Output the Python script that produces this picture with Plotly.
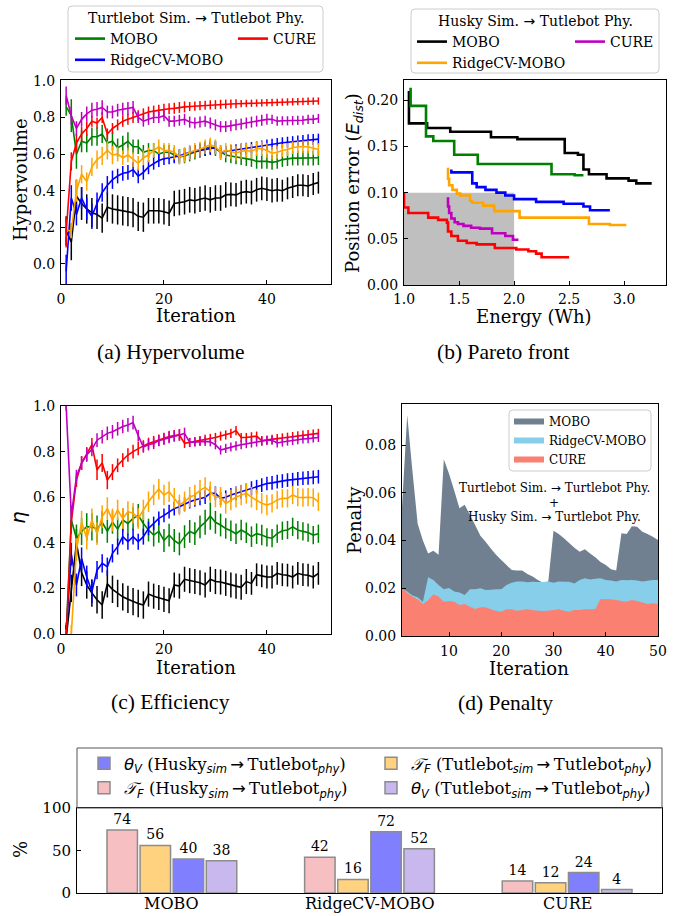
import plotly.graph_objects as go

W, H = 677, 916

iters = list(range(1, 51))

# ---------------- (a) Hypervolume ----------------
hv_mobo_tb = [0.86, 0.81, 0.60, 0.67, 0.66, 0.695, 0.695, 0.71, 0.66, 0.67,
              0.635, 0.65, 0.67, 0.64, 0.64, 0.61, 0.62, 0.62, 0.60, 0.61,
              0.61, 0.595, 0.585, 0.59, 0.60, 0.61, 0.62, 0.63, 0.64, 0.63,
              0.61, 0.595, 0.59, 0.585, 0.58, 0.575, 0.57, 0.56, 0.56, 0.56,
              0.555, 0.56, 0.57, 0.575, 0.578, 0.578, 0.578, 0.578, 0.578, 0.58]
hv_mobo_tb_err = [0.05, 0.09, 0.08, 0.06, 0.05, 0.05, 0.05, 0.05, 0.05, 0.05,
                  0.05, 0.05, 0.05, 0.04, 0.04, 0.04, 0.04, 0.04, 0.04, 0.04,
                  0.04, 0.04, 0.04, 0.04, 0.04, 0.04, 0.04, 0.04, 0.04, 0.04,
                  0.04, 0.04, 0.04, 0.04, 0.04, 0.04, 0.04, 0.04, 0.04, 0.04,
                  0.04, 0.04, 0.04, 0.04, 0.04, 0.04, 0.04, 0.04, 0.04, 0.04]
hv_cure_tb = [0.17, 0.56, 0.66, 0.71, 0.74, 0.78, 0.77, 0.80, 0.71, 0.74,
              0.76, 0.78, 0.79, 0.80, 0.81, 0.82, 0.83, 0.835, 0.84, 0.845,
              0.848, 0.85, 0.855, 0.858, 0.86, 0.862, 0.865, 0.867, 0.869, 0.87,
              0.872, 0.873, 0.874, 0.875, 0.876, 0.877, 0.878, 0.879, 0.88, 0.881,
              0.882, 0.883, 0.884, 0.885, 0.886, 0.887, 0.888, 0.889, 0.89, 0.89]
hv_cure_tb_err = [0.08, 0.05, 0.05, 0.04, 0.04, 0.03, 0.03, 0.03, 0.03, 0.03,
                  0.03, 0.03, 0.03, 0.03, 0.03, 0.03, 0.03, 0.03, 0.03, 0.03,
                  0.03, 0.03, 0.03, 0.03, 0.025, 0.025, 0.025, 0.025, 0.025, 0.025,
                  0.025, 0.025, 0.025, 0.025, 0.02, 0.02, 0.02, 0.02, 0.02, 0.02,
                  0.02, 0.02, 0.02, 0.02, 0.02, 0.02, 0.02, 0.02, 0.02, 0.02]
hv_ridge_tb = [-0.04, 0.36, 0.27, 0.36, 0.30, 0.26, 0.33, 0.39, 0.43, 0.46,
               0.48, 0.495, 0.50, 0.515, 0.48, 0.50, 0.53, 0.55, 0.565, 0.575,
               0.58, 0.585, 0.59, 0.60, 0.61, 0.615, 0.62, 0.625, 0.63, 0.635,
               0.61, 0.615, 0.62, 0.624, 0.628, 0.632, 0.636, 0.64, 0.645, 0.65,
               0.654, 0.658, 0.662, 0.665, 0.668, 0.672, 0.675, 0.678, 0.68, 0.682]
hv_ridge_tb_err = [0.09, 0.07, 0.06, 0.06, 0.06, 0.07, 0.06, 0.05, 0.05, 0.05,
                   0.04, 0.04, 0.04, 0.04, 0.04, 0.04, 0.04, 0.035, 0.035, 0.035,
                   0.035, 0.035, 0.035, 0.035, 0.035, 0.035, 0.035, 0.035, 0.035, 0.035,
                   0.03, 0.03, 0.03, 0.03, 0.03, 0.03, 0.03, 0.03, 0.03, 0.03,
                   0.03, 0.03, 0.03, 0.03, 0.03, 0.03, 0.03, 0.03, 0.03, 0.03]
hv_mobo_hk = [0.18, 0.12, 0.37, 0.33, 0.30, 0.28, 0.27, 0.25, 0.31, 0.30,
              0.295, 0.29, 0.285, 0.28, 0.26, 0.255, 0.29, 0.29, 0.29, 0.285,
              0.277, 0.33, 0.335, 0.34, 0.35, 0.345, 0.353, 0.36, 0.35, 0.36,
              0.36, 0.377, 0.38, 0.377, 0.39, 0.395, 0.39, 0.405, 0.413, 0.408,
              0.40, 0.405, 0.40, 0.413, 0.42, 0.43, 0.43, 0.426, 0.437, 0.444]
hv_mobo_hk_err = [0.08, 0.10, 0.09, 0.09, 0.08, 0.08, 0.08, 0.08, 0.08, 0.08,
                  0.08, 0.08, 0.08, 0.08, 0.08, 0.08, 0.07, 0.07, 0.07, 0.07,
                  0.07, 0.07, 0.07, 0.07, 0.07, 0.07, 0.07, 0.07, 0.07, 0.07,
                  0.07, 0.07, 0.065, 0.065, 0.065, 0.065, 0.065, 0.065, 0.065, 0.065,
                  0.065, 0.065, 0.06, 0.06, 0.06, 0.06, 0.06, 0.06, 0.06, 0.06]
hv_cure_hk = [0.92, 0.81, 0.74, 0.79, 0.82, 0.84, 0.845, 0.855, 0.83, 0.83,
              0.84, 0.845, 0.85, 0.855, 0.80, 0.78, 0.79, 0.80, 0.80, 0.81,
              0.78, 0.78, 0.785, 0.79, 0.775, 0.77, 0.775, 0.78, 0.77, 0.76,
              0.75, 0.75, 0.755, 0.76, 0.765, 0.77, 0.775, 0.78, 0.785, 0.79,
              0.79, 0.78, 0.782, 0.782, 0.783, 0.784, 0.785, 0.79, 0.79, 0.795]
hv_cure_hk_err = [0.05, 0.05, 0.04, 0.04, 0.04, 0.04, 0.04, 0.04, 0.035, 0.035,
                  0.035, 0.035, 0.035, 0.035, 0.03, 0.03, 0.03, 0.03, 0.03, 0.03,
                  0.03, 0.03, 0.03, 0.03, 0.03, 0.03, 0.03, 0.03, 0.03, 0.03,
                  0.03, 0.03, 0.03, 0.03, 0.03, 0.03, 0.03, 0.03, 0.03, 0.03,
                  0.025, 0.025, 0.025, 0.025, 0.025, 0.025, 0.025, 0.025, 0.025, 0.025]
hv_ridge_hk = [0.185, 0.18, 0.40, 0.49, 0.45, 0.53, 0.57, 0.59, 0.62, 0.595,
               0.60, 0.58, 0.595, 0.57, 0.55, 0.58, 0.595, 0.62, 0.64, 0.62,
               0.62, 0.61, 0.585, 0.595, 0.61, 0.62, 0.627, 0.64, 0.65, 0.64,
               0.61, 0.62, 0.615, 0.605, 0.615, 0.62, 0.615, 0.63, 0.63, 0.62,
               0.605, 0.61, 0.62, 0.625, 0.635, 0.64, 0.64, 0.64, 0.632, 0.625]
hv_ridge_hk_err = [0.04, 0.04, 0.06, 0.05, 0.05, 0.05, 0.05, 0.05, 0.05, 0.05,
                   0.04, 0.04, 0.04, 0.04, 0.04, 0.04, 0.04, 0.04, 0.04, 0.04,
                   0.04, 0.04, 0.04, 0.04, 0.04, 0.04, 0.04, 0.04, 0.04, 0.04,
                   0.04, 0.04, 0.04, 0.04, 0.04, 0.04, 0.04, 0.04, 0.04, 0.04,
                   0.035, 0.035, 0.035, 0.035, 0.035, 0.035, 0.035, 0.035, 0.035, 0.035]

# ---------------- (b) Pareto fronts (step staircases) ----------------
pf_mobo_hk_e = [1.045, 1.21, 1.42, 1.79, 2.03, 2.46, 2.58, 2.63, 2.68, 2.84, 3.04, 3.11, 3.25]
pf_mobo_hk_p = [0.210, 0.175, 0.170, 0.166, 0.160, 0.158, 0.143, 0.141, 0.125, 0.120, 0.1155, 0.113, 0.110]
pf_mobo_tb_e = [1.06, 1.20, 1.266, 1.456, 1.67, 2.34, 2.55, 2.63]
pf_mobo_tb_p = [0.2137, 0.194, 0.161, 0.156, 0.141, 0.131, 0.120, 0.1188]
pf_ridge_tb_e = [1.43, 1.62, 1.66, 1.74, 1.84, 1.92, 2.0, 2.2, 2.45, 2.63, 2.69, 2.87]
pf_ridge_tb_p = [0.125, 0.122, 0.110, 0.106, 0.103, 0.100, 0.097, 0.093, 0.090, 0.088, 0.085, 0.081]
pf_ridge_hk_e = [1.40, 1.41, 1.44, 1.48, 1.51, 1.60, 1.62, 1.72, 1.82, 1.875, 2.05, 2.68, 2.87, 3.02]
pf_ridge_hk_p = [0.127, 0.115, 0.108, 0.103, 0.099, 0.097, 0.091, 0.089, 0.086, 0.080, 0.080, 0.073, 0.066, 0.065]
pf_cure_hk_e = [1.40, 1.41, 1.43, 1.46, 1.49, 1.54, 1.61, 1.69, 1.80, 1.92, 1.99, 2.04]
pf_cure_hk_p = [0.095, 0.085, 0.078, 0.072, 0.068, 0.066, 0.064, 0.062, 0.061, 0.056, 0.053, 0.049]
pf_cure_tb_e = [1.0, 1.04, 1.22, 1.31, 1.39, 1.40, 1.43, 1.49, 1.57, 1.66, 1.825, 2.02, 2.13, 2.2, 2.25, 2.5]
pf_cure_tb_p = [0.100, 0.084, 0.078, 0.073, 0.0705, 0.0675, 0.058, 0.053, 0.048, 0.0455, 0.044, 0.040, 0.0385, 0.0365, 0.034, 0.030]
target_energy = [1.0, 2.0]
target_error = [0.0, 0.1]

# ---------------- (c) Efficiency ----------------
eta_mobo_tb = [0.0, 0.50, 0.42, 0.45, 0.47, 0.47, 0.46, 0.49, 0.45, 0.49,
               0.46, 0.50, 0.485, 0.507, 0.52, 0.485, 0.456, 0.434, 0.45, 0.41,
               0.434, 0.41, 0.395, 0.427, 0.45, 0.44, 0.47, 0.49, 0.517, 0.49,
               0.478, 0.463, 0.453, 0.44, 0.456, 0.444, 0.427, 0.44, 0.434, 0.424,
               0.42, 0.44, 0.453, 0.456, 0.47, 0.456, 0.45, 0.445, 0.434, 0.44]
eta_mobo_tb_err = [0.05, 0.06, 0.06, 0.06, 0.06, 0.06, 0.06, 0.05, 0.05, 0.05,
                   0.05, 0.05, 0.05, 0.05, 0.05, 0.05, 0.05, 0.05, 0.05, 0.05,
                   0.05, 0.05, 0.05, 0.05, 0.05, 0.05, 0.05, 0.055, 0.06, 0.05,
                   0.05, 0.045, 0.045, 0.045, 0.045, 0.045, 0.045, 0.045, 0.045, 0.04,
                   0.04, 0.04, 0.04, 0.04, 0.04, 0.04, 0.04, 0.04, 0.04, 0.04]
eta_cure_tb = [-0.02, 0.49, 0.675, 0.75, 0.79, 0.83, 0.72, 0.75, 0.675, 0.71,
               0.74, 0.763, 0.785, 0.80, 0.814, 0.825, 0.836, 0.844, 0.85, 0.858,
               0.866, 0.87, 0.873, 0.836, 0.84, 0.844, 0.848, 0.854, 0.858, 0.862,
               0.868, 0.873, 0.88, 0.892, 0.862, 0.862, 0.865, 0.868, 0.848, 0.85,
               0.854, 0.857, 0.86, 0.863, 0.866, 0.869, 0.872, 0.875, 0.877, 0.88]
eta_cure_tb_err = [0.03, 0.03, 0.03, 0.03, 0.03, 0.03, 0.045, 0.04, 0.04, 0.035,
                   0.03, 0.03, 0.03, 0.03, 0.03, 0.025, 0.025, 0.025, 0.025, 0.025,
                   0.025, 0.025, 0.025, 0.02, 0.02, 0.02, 0.02, 0.02, 0.02, 0.02,
                   0.02, 0.02, 0.02, 0.02, 0.02, 0.02, 0.02, 0.02, 0.02, 0.02,
                   0.02, 0.02, 0.02, 0.02, 0.02, 0.02, 0.02, 0.02, 0.02, 0.02]
eta_ridge_tb = [0.0, 0.35, 0.215, 0.33, 0.25, 0.186, 0.28, 0.31, 0.295, 0.354,
                0.383, 0.427, 0.405, 0.427, 0.405, 0.427, 0.463, 0.485, 0.507, 0.52,
                0.537, 0.55, 0.558, 0.57, 0.58, 0.588, 0.595, 0.60, 0.617, 0.617,
                0.595, 0.60, 0.61, 0.617, 0.624, 0.63, 0.64, 0.646, 0.653, 0.66,
                0.663, 0.668, 0.671, 0.675, 0.677, 0.68, 0.683, 0.685, 0.687, 0.69]
eta_ridge_tb_err = [0.04, 0.05, 0.05, 0.05, 0.05, 0.05, 0.04, 0.04, 0.04, 0.04,
                    0.035, 0.035, 0.035, 0.035, 0.035, 0.035, 0.03, 0.03, 0.03, 0.03,
                    0.03, 0.03, 0.03, 0.03, 0.03, 0.03, 0.03, 0.03, 0.03, 0.03,
                    0.03, 0.03, 0.03, 0.03, 0.03, 0.03, 0.03, 0.03, 0.03, 0.03,
                    0.03, 0.03, 0.03, 0.03, 0.03, 0.03, 0.03, 0.03, 0.03, 0.03]
eta_mobo_hk = [-0.02, 0.20, 0.40, 0.27, 0.215, 0.18, 0.15, 0.127, 0.22, 0.196,
               0.178, 0.163, 0.152, 0.142, 0.134, 0.127, 0.175, 0.166, 0.16, 0.152,
               0.146, 0.215, 0.21, 0.24, 0.234, 0.23, 0.225, 0.215, 0.24, 0.23,
               0.228, 0.222, 0.215, 0.21, 0.205, 0.23, 0.222, 0.26, 0.255, 0.25,
               0.25, 0.266, 0.26, 0.258, 0.25, 0.266, 0.26, 0.258, 0.25, 0.266]
eta_mobo_hk_err = [0.06, 0.06, 0.06, 0.06, 0.06, 0.06, 0.06, 0.06, 0.06, 0.06,
                   0.06, 0.06, 0.06, 0.06, 0.06, 0.06, 0.055, 0.055, 0.055, 0.055,
                   0.055, 0.055, 0.055, 0.055, 0.055, 0.055, 0.055, 0.055, 0.055, 0.055,
                   0.055, 0.055, 0.055, 0.055, 0.055, 0.055, 0.05, 0.05, 0.05, 0.05,
                   0.05, 0.05, 0.05, 0.05, 0.05, 0.05, 0.05, 0.05, 0.05, 0.05]
eta_cure_hk = [1.0, 0.52, 0.69, 0.75, 0.785, 0.81, 0.85, 0.865, 0.88, 0.887,
               0.90, 0.91, 0.917, 0.927, 0.87, 0.82, 0.83, 0.836, 0.848, 0.854,
               0.862, 0.868, 0.873, 0.88, 0.84, 0.842, 0.845, 0.845, 0.843, 0.83,
               0.807, 0.814, 0.82, 0.825, 0.83, 0.835, 0.838, 0.842, 0.846, 0.85,
               0.85, 0.838, 0.842, 0.846, 0.849, 0.852, 0.855, 0.857, 0.86, 0.862]
eta_cure_hk_err = [0.02, 0.03, 0.03, 0.03, 0.03, 0.03, 0.03, 0.03, 0.03, 0.03,
                   0.03, 0.03, 0.03, 0.03, 0.025, 0.025, 0.025, 0.025, 0.025, 0.025,
                   0.025, 0.025, 0.025, 0.025, 0.02, 0.02, 0.02, 0.02, 0.02, 0.02,
                   0.02, 0.02, 0.02, 0.02, 0.02, 0.02, 0.02, 0.02, 0.02, 0.02,
                   0.02, 0.02, 0.02, 0.02, 0.02, 0.02, 0.02, 0.02, 0.02, 0.02]
eta_ridge_hk = [-0.02, 0.0, 0.37, 0.49, 0.42, 0.50, 0.44, 0.515, 0.55, 0.50,
                0.544, 0.507, 0.537, 0.53, 0.507, 0.544, 0.58, 0.61, 0.635, 0.61,
                0.624, 0.595, 0.566, 0.58, 0.60, 0.61, 0.63, 0.643, 0.624, 0.60,
                0.60, 0.573, 0.588, 0.60, 0.61, 0.617, 0.60, 0.588, 0.573, 0.566,
                0.573, 0.588, 0.595, 0.595, 0.61, 0.60, 0.598, 0.60, 0.598, 0.58]
eta_ridge_hk_err = [0.04, 0.04, 0.05, 0.05, 0.05, 0.05, 0.05, 0.05, 0.05, 0.05,
                    0.045, 0.045, 0.045, 0.045, 0.045, 0.045, 0.045, 0.045, 0.045, 0.045,
                    0.045, 0.045, 0.045, 0.045, 0.045, 0.045, 0.045, 0.045, 0.045, 0.045,
                    0.045, 0.045, 0.045, 0.045, 0.045, 0.045, 0.045, 0.045, 0.045, 0.045,
                    0.04, 0.04, 0.04, 0.04, 0.04, 0.04, 0.04, 0.04, 0.04, 0.04]

# ---------------- (d) Penalty ----------------
pen_mobo = [0.054, 0.0926, 0.069, 0.047, 0.040, 0.0346, 0.0357, 0.034, 0.074, 0.068,
            0.061, 0.0535, 0.055, 0.0507, 0.0465, 0.042, 0.0395, 0.0367, 0.034, 0.0318,
            0.0297, 0.0276, 0.0274, 0.0274, 0.026, 0.0249, 0.0235, 0.0223, 0.0228, 0.0441,
            0.0427, 0.041, 0.039, 0.037, 0.0353, 0.0363, 0.0346, 0.033, 0.031, 0.0297,
            0.028, 0.0274, 0.043, 0.0427, 0.046, 0.0458, 0.0437, 0.0427, 0.0416, 0.0402]
pen_ridge = [0.020, 0.0186, 0.017, 0.0162, 0.0144, 0.0246, 0.0235, 0.0214, 0.0196, 0.0201,
             0.0186, 0.0182, 0.0172, 0.0196, 0.0196, 0.020, 0.0193, 0.0194, 0.0196, 0.0196,
             0.0214, 0.0223, 0.0228, 0.0228, 0.0225, 0.0227, 0.0226, 0.0226, 0.0228, 0.0223,
             0.0228, 0.0227, 0.0227, 0.022, 0.0235, 0.0242, 0.0237, 0.024, 0.0242, 0.0235,
             0.0233, 0.0228, 0.0235, 0.0234, 0.0235, 0.0233, 0.0228, 0.0231, 0.0235, 0.0235]
pen_cure = [0.020, 0.018, 0.0165, 0.0154, 0.0134, 0.015, 0.0175, 0.0165, 0.0144, 0.0147,
            0.0144, 0.013, 0.0134, 0.0123, 0.0113, 0.012, 0.012, 0.0112, 0.0105, 0.0102,
            0.0112, 0.0112, 0.0106, 0.0109, 0.0112, 0.0109, 0.0106, 0.0105, 0.0106, 0.0109,
            0.0112, 0.0106, 0.0102, 0.0109, 0.0109, 0.0112, 0.0112, 0.0113, 0.0155, 0.0154,
            0.0154, 0.0151, 0.0147, 0.0144, 0.0151, 0.0147, 0.014, 0.0134, 0.0137, 0.0134]

# ---------------- Bars: share of runs (%) ----------------
methods = ["MOBO", "RidgeCV-MOBO", "CURE"]
tf_husky = [74, 42, 14]
tf_turtle = [56, 16, 12]
thv_husky = [40, 72, 24]
thv_turtle = [38, 52, 4]

C_GREEN, C_RED, C_BLUE = "#008000", "#ff0000", "#0000ff"
C_BLACK, C_MAG, C_ORANGE = "#000000", "#bf00bf", "#ffa500"

SANS = "DejaVu Sans"
CAPTION_FONT = "Liberation Serif"


def pxx(x):
    return x / W


def pxy(y):
    return 1 - y / H


def mi(s):
    return f'<span style="font-family:{SANS}"><i>{s}</i></span>'


def rounded_box(x0, y0, x1, y1, r=4):
    """SVG path (paper units) for a frame with softly rounded corners, given in pixels."""
    rx, ry = r / W, r / H
    a, b, c, d = pxx(x0), pxx(x1), pxy(y0), pxy(y1)  # left, right, top, bottom
    return (f"M{a + rx},{c} L{b - rx},{c} Q{b},{c} {b},{c - ry} "
            f"L{b},{d + ry} Q{b},{d} {b - rx},{d} L{a + rx},{d} Q{a},{d} {a},{d + ry} "
            f"L{a},{c - ry} Q{a},{c} {a + rx},{c} Z")


ARROW = "\u2009" + mi("→") + "\u2009"

fig = go.Figure()


def err_line(x, y, e, color, name, xa, ya):
    fig.add_trace(go.Scatter(
        x=x, y=y, mode="lines", name=name,
        line=dict(color=color, width=1.6),
        error_y=dict(type="data", array=e, visible=True, thickness=1.5, width=0, color=color),
        xaxis=xa, yaxis=ya, showlegend=False,
    ))


# (a)
err_line(iters, hv_mobo_hk, hv_mobo_hk_err, C_BLACK, "MOBO", "x", "y")
err_line(iters, hv_mobo_tb, hv_mobo_tb_err, C_GREEN, "MOBO", "x", "y")
err_line(iters, hv_ridge_tb, hv_ridge_tb_err, C_BLUE, "RidgeCV-MOBO", "x", "y")
err_line(iters, hv_ridge_hk, hv_ridge_hk_err, C_ORANGE, "RidgeCV-MOBO", "x", "y")
err_line(iters, hv_cure_tb, hv_cure_tb_err, C_RED, "CURE", "x", "y")
err_line(iters, hv_cure_hk, hv_cure_hk_err, C_MAG, "CURE", "x", "y")

# (b): the step fronts also carry the legend entries of both robot pairs
fronts = [
    (pf_mobo_hk_e, pf_mobo_hk_p, C_BLACK, "MOBO", "legend4"),
    (pf_mobo_tb_e, pf_mobo_tb_p, C_GREEN, "MOBO", "legend"),
    (pf_ridge_tb_e, pf_ridge_tb_p, C_BLUE, "RidgeCV-MOBO", "legend"),
    (pf_ridge_hk_e, pf_ridge_hk_p, C_ORANGE, "RidgeCV-MOBO", "legend4"),
    (pf_cure_hk_e, pf_cure_hk_p, C_MAG, "CURE", "legend5"),
    (pf_cure_tb_e, pf_cure_tb_p, C_RED, "CURE", "legend2"),
]
for ex, ey, col, nm, lg in fronts:
    fig.add_trace(go.Scatter(
        x=ex, y=ey, mode="lines", name=nm, line=dict(color=col, width=2.6, shape="vh"),
        xaxis="x2", yaxis="y2", legend=lg,
    ))

# (c)
err_line(iters, eta_mobo_hk, eta_mobo_hk_err, C_BLACK, "MOBO", "x3", "y3")
err_line(iters, eta_mobo_tb, eta_mobo_tb_err, C_GREEN, "MOBO", "x3", "y3")
err_line(iters, eta_ridge_tb, eta_ridge_tb_err, C_BLUE, "RidgeCV-MOBO", "x3", "y3")
err_line(iters, eta_ridge_hk, eta_ridge_hk_err, C_ORANGE, "RidgeCV-MOBO", "x3", "y3")
err_line(iters, eta_cure_tb, eta_cure_tb_err, C_RED, "CURE", "x3", "y3")
err_line(iters, eta_cure_hk, eta_cure_hk_err, C_MAG, "CURE", "x3", "y3")

# (d)
for vals, col, nm in [(pen_mobo, "#708090", "MOBO"),
                      (pen_ridge, "#87ceeb", "RidgeCV-MOBO"),
                      (pen_cure, "#fa8072", "CURE")]:
    fig.add_trace(go.Scatter(
        x=iters, y=vals, mode="none", fill="tozeroy", fillcolor=col, name=nm,
        xaxis="x4", yaxis="y4", legend="legend3",
    ))

# bars
lab_theta_h = f'{mi("θ")}<sub>{mi("V")}</sub> (Husky<sub>{mi("sim")}</sub>{ARROW}Tutlebot<sub>{mi("phy")}</sub>)'
lab_theta_t = f'{mi("θ")}<sub>{mi("V")}</sub> (Tutlebot<sub>{mi("sim")}</sub>{ARROW}Tutlebot<sub>{mi("phy")}</sub>)'
lab_tf_h = f'{mi("𝒯")}<sub>{mi("F")}</sub> (Husky<sub>{mi("sim")}</sub>{ARROW}Tutlebot<sub>{mi("phy")}</sub>)'
lab_tf_t = f'{mi("𝒯")}<sub>{mi("F")}</sub> (Tutlebot<sub>{mi("sim")}</sub>{ARROW}Tutlebot<sub>{mi("phy")}</sub>)'
bar_specs = [
    (tf_husky, "#f6bfc1", lab_tf_h, "legend6", 2),
    (tf_turtle, "#ffd280", lab_tf_t, "legend7", 1),
    (thv_husky, "#8080ff", lab_theta_h, "legend6", 1),
    (thv_turtle, "#c9b8ed", lab_theta_t, "legend7", 2),
]
for vals, col, nm, lg, rk in bar_specs:
    fig.add_trace(go.Bar(
        x=methods, y=vals, name=nm, marker=dict(color=col, line=dict(color="#8c8c8c", width=1.5)),
        text=vals, texttemplate="%{y}", textposition="outside", cliponaxis=False,
        textfont=dict(size=14, color="black"),
        xaxis="x5", yaxis="y5", legend=lg, legendrank=rk,
    ))

axis_common = dict(showline=True, linecolor="black", linewidth=1, mirror=True,
                   ticks="inside", ticklen=4, tickwidth=1, tickcolor="black",
                   showgrid=False, zeroline=False, tickfont=dict(size=14),
                   ticklabelstandoff=2)


def legend_box(x, y, size):
    return dict(x=pxx(x), y=pxy(y), xanchor="left", yanchor="top",
                bgcolor="rgba(0,0,0,0)", borderwidth=0, font=dict(size=size))


layout = dict(
    width=W, height=H, margin=dict(l=0, r=0, t=0, b=0, autoexpand=False),
    paper_bgcolor="white", plot_bgcolor="white",
    font=dict(family="DejaVu Serif", color="black", size=14),
    barmode="group", bargap=0.33, bargroupgap=0.08,
    xaxis=dict(axis_common, domain=[pxx(61), pxx(331)], anchor="y", range=[0, 52.45], tickvals=[0, 20, 40]),
    yaxis=dict(axis_common, domain=[pxy(284), pxy(80)], anchor="x", range=[-0.11, 1.005],
               tickvals=[0, 0.2, 0.4, 0.6, 0.8, 1.0], tickformat=".1f"),
    xaxis2=dict(axis_common, domain=[pxx(404), pxx(666)], anchor="y2", range=[1.0, 3.38],
                tickvals=[1.0, 1.5, 2.0, 2.5, 3.0], tickformat=".1f", ticklabelstandoff=1),
    yaxis2=dict(axis_common, domain=[pxy(285), pxy(80)], anchor="x2", range=[0, 0.222],
                tickvals=[0, 0.05, 0.10, 0.15, 0.20], tickformat=".2f"),
    xaxis3=dict(axis_common, domain=[pxx(61), pxx(331)], anchor="y3", range=[0, 52.45], tickvals=[0, 20, 40]),
    yaxis3=dict(axis_common, domain=[pxy(634), pxy(406)], anchor="x3", range=[0, 1.0],
                tickvals=[0, 0.2, 0.4, 0.6, 0.8, 1.0], tickformat=".1f"),
    xaxis4=dict(axis_common, domain=[pxx(402), pxx(658)], anchor="y4", range=[1, 50],
                tickvals=[10, 20, 30, 40, 50]),
    yaxis4=dict(axis_common, domain=[pxy(636), pxy(404)], anchor="x4", range=[0, 0.0972],
                tickvals=[0, 0.02, 0.04, 0.06, 0.08], tickformat=".2f"),
    # category names of the bar panel are written as annotations just above the page edge
    xaxis5=dict(axis_common, domain=[pxx(77), pxx(662)], anchor="y5", range=[-0.48, 2.48],
                ticks="", showticklabels=False),
    yaxis5=dict(axis_common, domain=[pxy(893), pxy(808)], anchor="x5", range=[0, 100],
                tickvals=[0, 50, 100], tickfont=dict(size=15)),
    legend=legend_box(70, 23, 14),
    legend2=legend_box(233, 23, 14),
    legend4=legend_box(412, 26, 14),
    legend5=legend_box(570, 26, 14),
    legend3=legend_box(509, 407, 12),
    legend6=legend_box(84, 746, 16.5),
    legend7=legend_box(371, 746, 16.5),
)
fig.update_layout(**layout)

# legend frames and the target region in (b)
shapes = [
    dict(type="path", xref="paper", yref="paper", path=rounded_box(68, 6, 323, 72),
         line=dict(color="#cccccc", width=1)),
    dict(type="path", xref="paper", yref="paper", path=rounded_box(411, 9, 659, 73),
         line=dict(color="#cccccc", width=1)),
    dict(type="path", xref="paper", yref="paper", path=rounded_box(509, 410, 651, 471),
         line=dict(color="#cccccc", width=1), fillcolor="rgba(255,255,255,0.8)", layer="above"),
    dict(type="rect", xref="paper", yref="paper", x0=pxx(77), x1=pxx(662), y0=pxy(808), y1=pxy(748),
         line=dict(color="#555555", width=1)),
    dict(type="rect", xref="x2", yref="y2", x0=target_energy[0], x1=target_energy[1],
         y0=target_error[0], y1=target_error[1], fillcolor="#bfbfbf", line=dict(width=0), layer="below"),
]
fig.update_layout(shapes=shapes)

ann = []


def note(text, x, y, size, angle=0, family=None):
    d = dict(text=text, x=pxx(x), y=pxy(y), xref="paper", yref="paper", showarrow=False,
             xanchor="center", yanchor="middle", textangle=angle, font=dict(size=size))
    if family:
        d["font"]["family"] = family
    ann.append(d)


note("Turtlebot Sim. " + mi("→") + " Tutlebot Phy.", 196, 18, 14)
note("Husky Sim. " + mi("→") + " Tutlebot Phy.", 535, 21, 14)
note("Hypervoulme", 20, 180, 18, -90)
note("Iteration", 196, 315, 18)
note("Position error (" + mi("E") + "<sub>" + mi("dist") + "</sub>)", 354, 183, 18, -90)
note("Energy (Wh)", 534, 316, 18)
note(mi("η"), 18, 518, 20, -90)
note("Iteration", 196, 667, 18)
note("Penalty", 354, 520, 18, -90)
note("Iteration", 529, 668, 18)
note("%", 20, 850, 18, -90)
note("Turtlebot Sim. " + mi("→") + " Turtlebot Phy.", 554, 488, 12)
note("+", 554, 503, 12)
note("Husky Sim. " + mi("→") + " Turtlebot Phy.", 554, 517, 12)
note("(a) Hypervolume", 170, 352, 21.5, family=CAPTION_FONT)
note("(b) Pareto front", 503, 352, 21.5, family=CAPTION_FONT)
note("(c) Efficiency", 170, 702, 21.5, family=CAPTION_FONT)
note("(d) Penalty", 505, 703, 21.5, family=CAPTION_FONT)

# method names under each bar group, placed on the bar axis categories
for m in methods:
    ann.append(dict(text=m, x=m, xref="x5", y=pxy(915), yref="paper", showarrow=False,
                    xanchor="center", yanchor="bottom", font=dict(size=16)))
fig.update_layout(annotations=ann)

# The page's default body margin is cleared right away (outside the plot promise),
# so the 677x916 figure sits flush in the window.
reset_margin = "});\ndocument.body.style.margin = '0';\n(function(){"
fig.write_html("out.html", post_script=reset_margin)
